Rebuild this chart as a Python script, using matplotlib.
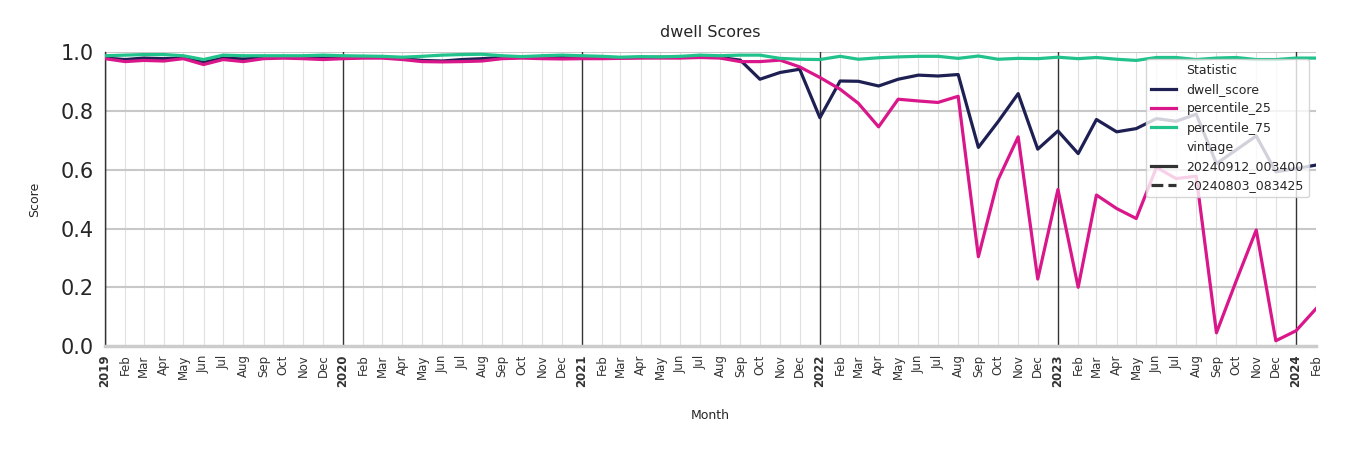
import pandas as pd
import matplotlib
matplotlib.use("Agg")
import matplotlib.pyplot as plt
from matplotlib.lines import Line2D

months = pd.date_range("2019-01-01", "2024-02-01", freq="MS")

dwell_score = [
    0.980, 0.975, 0.980, 0.978, 0.980, 0.965, 0.980, 0.977, 0.980, 0.982, 0.982, 0.980,
    0.980, 0.982, 0.982, 0.978, 0.972, 0.970, 0.975, 0.978, 0.982, 0.982, 0.983, 0.983,
    0.982, 0.981, 0.981, 0.982, 0.983, 0.982, 0.985, 0.982, 0.973, 0.908, 0.931, 0.942,
    0.777, 0.902, 0.901, 0.885, 0.908, 0.922, 0.919, 0.924, 0.676, 0.763, 0.859, 0.670,
    0.732, 0.655, 0.771, 0.729, 0.740, 0.774, 0.765, 0.789, 0.621, 0.667, 0.715, 0.593,
    0.604, 0.616,
]
percentile_25 = [
    0.978, 0.968, 0.972, 0.970, 0.978, 0.958, 0.975, 0.968, 0.978, 0.980, 0.978, 0.975,
    0.978, 0.980, 0.980, 0.975, 0.968, 0.967, 0.968, 0.970, 0.978, 0.980, 0.978, 0.977,
    0.978, 0.978, 0.979, 0.980, 0.980, 0.980, 0.982, 0.980, 0.968, 0.968, 0.973, 0.950,
    0.914, 0.874, 0.826, 0.746, 0.840, 0.834, 0.829, 0.850, 0.304, 0.565, 0.712, 0.228,
    0.533, 0.200, 0.514, 0.468, 0.434, 0.608, 0.570, 0.578, 0.045, 0.220, 0.395, 0.018,
    0.052, 0.128,
]
percentile_75 = [
    0.988, 0.990, 0.992, 0.992, 0.988, 0.975, 0.990, 0.988, 0.988, 0.988, 0.988, 0.990,
    0.988, 0.987, 0.986, 0.983, 0.986, 0.990, 0.992, 0.993, 0.988, 0.985, 0.988, 0.990,
    0.988, 0.986, 0.983, 0.985, 0.984, 0.986, 0.990, 0.988, 0.990, 0.990, 0.979, 0.976,
    0.975, 0.986, 0.976, 0.981, 0.984, 0.986, 0.986, 0.979, 0.987, 0.976, 0.979, 0.978,
    0.983, 0.978, 0.982, 0.976, 0.972, 0.982, 0.982, 0.975, 0.980, 0.982, 0.975, 0.975,
    0.980, 0.980,
]
series = {
    "dwell_score": (dwell_score, "#1e1f52"),
    "percentile_25": (percentile_25, "#d9178a"),
    "percentile_75": (percentile_75, "#22c28c"),
}
vintages = ["20240912_003400", "20240803_083425"]

fig = plt.figure(figsize=(13.5, 4.5), dpi=100)
ax = fig.add_axes([0.0778, 0.231, 0.8972, 0.653])

# month grid and year separators
for m in months:
    if m.month == 1:
        ax.axvline(m, color="#333333", lw=1.0, zorder=1)
    else:
        ax.axvline(m, color="#e0e0e0", lw=0.8, zorder=0)
for yv in [0.2, 0.4, 0.6, 0.8, 1.0]:
    ax.axhline(yv, color="#c8c8c8", lw=1.5, zorder=0)

for name, (vals, col) in series.items():
    ax.plot(months, vals, color=col, lw=2.3, zorder=3)

ax.set_xlim(months[0], months[-1])
ax.set_ylim(0, 1.0)
ax.set_yticks([0, 0.2, 0.4, 0.6, 0.8, 1.0])
ax.set_yticklabels([f"{v:.1f}" for v in [0, 0.2, 0.4, 0.6, 0.8, 1.0]],
                   fontsize=15, color="#262626")
ax.tick_params(axis="y", length=0, pad=8)

ax.set_xticks(months)
labels = [str(m.year) if m.month == 1 else m.strftime("%b") for m in months]
ax.set_xticklabels(labels, rotation=90, fontsize=8.5, color="#333333")
for lbl, m in zip(ax.get_xticklabels(), months):
    if m.month == 1:
        lbl.set_fontweight("bold")
ax.tick_params(axis="x", length=0, pad=6)

for s in ["top", "right"]:
    ax.spines[s].set_visible(False)
ax.spines["left"].set_color("#333333")
ax.spines["left"].set_linewidth(1.0)
ax.spines["bottom"].set_color("#cccccc")
ax.spines["bottom"].set_linewidth(2.5)

ax.set_title("dwell Scores", fontsize=11.5, color="#262626", pad=11)
ax.set_ylabel("Score", fontsize=9, color="#262626", labelpad=14)
ax.set_xlabel("Month", fontsize=9, color="#262626", labelpad=16)

blank = Line2D([], [], color="none")
handles = [blank]
names = ["Statistic"]
for name, (vals, col) in series.items():
    handles.append(Line2D([], [], color=col, lw=2.3))
    names.append(name)
handles.append(blank)
names.append("vintage")
handles.append(Line2D([], [], color="#333333", lw=2.3, ls="-"))
handles.append(Line2D([], [], color="#333333", lw=2.3, ls="--"))
names += vintages
leg = ax.legend(handles, names, loc="upper right", fontsize=9, framealpha=0.8,
                edgecolor="#cccccc", handlelength=2.0, borderaxespad=0.3,
                bbox_to_anchor=(0.997, 0.99))
for t in leg.get_texts():
    t.set_color("#262626")

fig.savefig("out.png", dpi=100)
